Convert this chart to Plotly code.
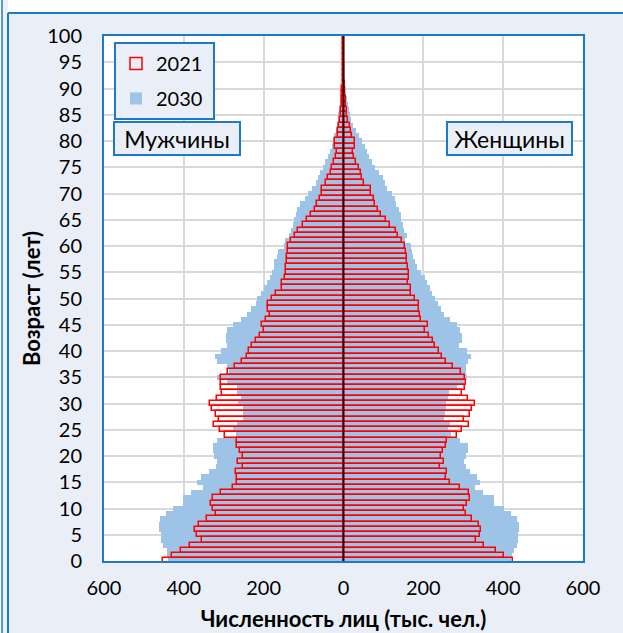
import plotly.graph_objects as go

ages = list(range(101))

male_2021 = [452, 430, 408, 385, 355, 367, 372, 362, 341, 320,
             327, 332, 327, 306, 277, 268, 267, 269, 252, 264,
             253, 259, 266, 268, 296, 309, 324, 312, 320, 330,
             334, 318, 305, 308, 306, 306, 289, 273, 254, 243,
             237, 228, 220, 209, 199, 205, 194, 185, 188, 188,
             180, 168, 155, 153, 146, 145, 143, 142, 141, 139,
             138, 131, 122, 114, 101, 91, 81, 72, 66, 60,
             54, 54, 44, 38, 32, 28, 23, 18, 16, 21,
             21, 15, 13, 11, 9, 7, 6, 5, 4, 3,
             3, 2, 1.5, 1, 0.8, 0.5, 0.3, 0.2, 0.1, 0.1, 0.1]

female_2021 = [424, 403, 382, 353, 333, 343, 345, 339, 321, 308,
               302, 310, 316, 314, 293, 267, 256, 259, 242, 253,
               243, 249, 258, 259, 285, 298, 315, 303, 318, 322,
               330, 312, 298, 305, 308, 304, 294, 274, 258, 247,
               240, 228, 225, 214, 204, 211, 193, 191, 190, 190,
               179, 168, 170, 162, 164, 164, 161, 159, 158, 156,
               153, 147, 137, 131, 116, 107, 95, 87, 80, 76,
               70, 70, 52, 47, 43, 38, 32, 27, 23, 28,
               29, 21, 18, 16, 12, 10, 8, 6, 5, 4,
               4, 3, 2, 1.5, 1, 0.8, 0.5, 0.3, 0.2, 0.1, 0.1]

male_2030 = [440, 441, 443, 451, 456, 457, 461, 462, 459, 445,
             426, 403, 401, 382, 353, 366, 357, 337, 320, 316,
             324, 328, 326, 318, 270, 278, 267, 253, 253, 253,
             264, 258, 266, 267, 291, 316, 288, 292, 318, 322,
             307, 292, 295, 295, 292, 277, 258, 241, 231, 219,
             216, 207, 199, 191, 183, 180, 175, 173, 166, 163,
             150, 147, 136, 132, 126, 124, 120, 116, 108, 97,
             88, 78, 70, 64, 59, 52, 46, 40, 34, 29,
             26, 23, 20, 17, 15, 13, 11, 9, 8, 6,
             5, 4, 3, 2.5, 2, 1.5, 1, 0.7, 0.5, 0.3, 0.2]

female_2030 = [419, 423, 428, 435, 437, 437, 440, 440, 434, 420,
               401, 378, 378, 349, 330, 343, 334, 316, 308, 301,
               306, 311, 311, 292, 269, 261, 266, 251, 254, 256,
               258, 263, 265, 284, 302, 310, 308, 308, 313, 319,
               310, 290, 296, 297, 291, 284, 268, 253, 243, 236,
               228, 222, 216, 208, 203, 193, 183, 178, 174, 172,
               168, 153, 158, 151, 148, 145, 143, 138, 132, 128,
               121, 110, 104, 98, 88, 80, 72, 64, 58, 53,
               46, 38, 32, 24, 19, 16, 13, 11, 9, 7,
               5, 4, 3, 2.5, 2, 1.5, 1, 0.7, 0.5, 0.3, 0.2]

x_ticks = [-600, -400, -200, 0, 200, 400, 600]
x_tick_text = ["600", "400", "200", "0", "200", "400", "600"]

BLUE = "#9DC3E6"
RED = "#FF0000"
FRAME = "#1F7AC6"
BG = "#EAEFF7"
FONT = "Lato, 'Open Sans', sans-serif"

fig = go.Figure()
fig.add_trace(go.Bar(y=ages, x=[-v for v in male_2030], orientation="h", width=1,
                     marker=dict(color=BLUE, line=dict(width=0)),
                     name="2030 ", legendgroup="g2030", legendrank=2, showlegend=True))
fig.add_trace(go.Bar(y=ages, x=female_2030, orientation="h", width=1,
                     marker=dict(color=BLUE, line=dict(width=0)),
                     name="2030 ", legendgroup="g2030", showlegend=False))
fig.add_trace(go.Bar(y=ages, x=[-v for v in male_2021], orientation="h", width=1,
                     marker=dict(color="rgba(0,0,0,0)", line=dict(color=RED, width=1.5)),
                     name="2021 ", legendgroup="g2021", legendrank=1, showlegend=True))
fig.add_trace(go.Bar(y=ages, x=female_2021, orientation="h", width=1,
                     marker=dict(color="rgba(0,0,0,0)", line=dict(color=RED, width=1.5)),
                     name="2021 ", legendgroup="g2021", showlegend=False))

L, R, T, B = 104, 40, 36, 72
W, H = 623, 633
pw, ph = W - L - R, H - T - B


def px(xp):
    return (xp - L) / pw


def py(yp):
    return (H - B - yp) / ph


shapes = [
    dict(type="rect", xref="paper", yref="paper", x0=px(-5), x1=px(W + 5), y0=py(12.5), y1=py(-5),
         fillcolor="white", line=dict(width=0), layer="below"),
    dict(type="rect", xref="paper", yref="paper", x0=px(-5), x1=px(8), y0=py(H + 5), y1=py(-5),
         fillcolor="white", line=dict(width=0), layer="below"),
    dict(type="rect", xref="paper", yref="paper", x0=px(2.5), x1=px(8), y0=py(H + 5), y1=py(-5),
         fillcolor="#EEF1F6", line=dict(width=0), layer="below"),
    dict(type="line", xref="paper", yref="paper", x0=px(2), x1=px(2), y0=py(H + 5), y1=py(-5),
         line=dict(color=FRAME, width=1.5), layer="below"),
    dict(type="line", xref="paper", yref="paper", x0=px(8), x1=px(8), y0=py(H + 5), y1=py(13),
         line=dict(color=FRAME, width=2), layer="below"),
    dict(type="line", xref="paper", yref="paper", x0=px(8), x1=px(W + 5), y0=py(13), y1=py(13),
         line=dict(color=FRAME, width=2), layer="below"),
    dict(type="line", xref="x", yref="paper", x0=0, x1=0, y0=0, y1=1,
         line=dict(color="#3A0000", width=2), layer="above"),
]

annotations = [
    dict(text="Мужчины", xref="paper", yref="paper", x=px(177), y=py(138),
         xanchor="center", yanchor="middle", showarrow=False,
         font=dict(family=FONT, size=23, color="black"),
         bgcolor=BG, bordercolor=FRAME, borderwidth=2, borderpad=3, width=118, height=25),
    dict(text="Женщины", xref="paper", yref="paper", x=px(509), y=py(138),
         xanchor="center", yanchor="middle", showarrow=False,
         font=dict(family=FONT, size=23, color="black"),
         bgcolor=BG, bordercolor=FRAME, borderwidth=2, borderpad=3, width=117, height=25),
]

fig.update_layout(
    width=W, height=H,
    margin=dict(l=L, r=R, t=T, b=B, pad=0, autoexpand=False),
    paper_bgcolor=BG, plot_bgcolor="white",
    barmode="overlay", bargap=0,
    font=dict(family=FONT, size=20, color="black"),
    shapes=shapes, annotations=annotations,
    legend=dict(x=px(114), y=py(42), xanchor="left", yanchor="top",
                bgcolor=BG, bordercolor=FRAME, borderwidth=2,
                font=dict(family=FONT, size=20, color="black"),
                tracegroupgap=6, itemclick=False),
    xaxis=dict(range=[-600, 600], tickvals=x_ticks, ticktext=x_tick_text,
               showgrid=True, gridcolor="#D9D9D9", gridwidth=1.5, zeroline=False,
               showline=True, mirror=True, linecolor=FRAME, linewidth=2, automargin=False,
               ticks="", ticklabelstandoff=8, tickfont=dict(family=FONT, size=20),
               title=dict(text="<b>Численность лиц (тыс. чел.)</b>", standoff=14,
                          font=dict(family=FONT, size=22))),
    yaxis=dict(range=[0, 100], dtick=5, tick0=0,
               showgrid=True, gridcolor="#D9D9D9", gridwidth=1.5, zeroline=False,
               showline=True, mirror=True, linecolor=FRAME, linewidth=2, automargin=False,
               ticks="", ticklabelstandoff=16, tickfont=dict(family=FONT, size=20),
               title=dict(text="<b>Возраст (лет)</b>", standoff=0,
                          font=dict(family=FONT, size=22))),
)

fig.write_html("out.html", config={"displayModeBar": False},
               post_script="document.body.style.margin='0px';document.body.style.overflow='hidden';")
